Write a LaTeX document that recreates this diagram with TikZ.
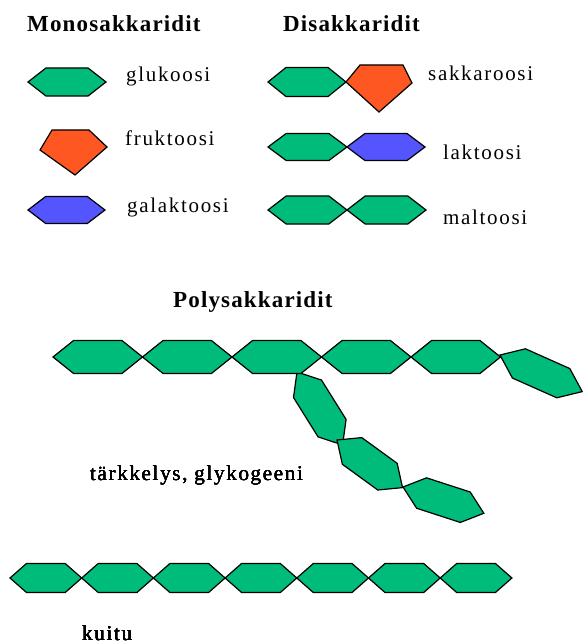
\documentclass[tikz,border=0pt]{standalone}
\usepackage{fontspec}
\setmainfont{Liberation Serif}[LetterSpace=8]
\definecolor{glc}{RGB}{0,188,122}
\definecolor{fru}{RGB}{255,87,34}
\definecolor{gal}{RGB}{85,85,255}

\tikzset{
  sugar/.style={draw=black,line width=1.2pt,line join=miter},
  lbl/.style={anchor=base west,inner sep=0pt,font=\fontsize{21}{23}\selectfont},
  ttl/.style={anchor=base west,inner sep=0pt,font=\fontsize{23}{25}\selectfont\bfseries\addfontfeature{LetterSpace=5}}
}

% six-sided ring: #1 left tip, #2 clockwise tilt (deg), #3 length, #4 half height, #5 fill
\newcommand{\ring}[5]{%
  \begin{scope}[shift={#1},rotate=-#2]
    \filldraw[sugar,fill=#5] (0,0) -- ({0.23*#3},-#4) -- ({0.77*#3},-#4)
      -- (#3,0) -- ({0.77*#3},#4) -- ({0.23*#3},#4) -- cycle;
  \end{scope}}

\begin{document}
\begin{tikzpicture}[x=1pt,y=-1pt]
\useasboundingbox (0,0) rectangle (584,644);
\clip (0,0) rectangle (584,644);

% headings
\node[ttl] (mono) at (27,32) {Monosakkaridit};
\node[ttl] (di) at (283,32) {Disakkaridit};
\node[ttl] (poly) at (173,307) {Polysakkaridit};

% monosaccharides
\ring{(28,82)}{0}{78}{14}{glc}
\filldraw[sugar,fill=fru] (52,130) -- (89,130) -- (107,147) -- (75,175) -- (40,150) -- cycle;
\ring{(28,210)}{0}{77}{13.5}{gal}
\node[lbl] (glukoosi) at (126,82) {glukoosi};
\node[lbl] (fruktoosi) at (125,146) {fruktoosi};
\node[lbl] (galaktoosi) at (127,212) {galaktoosi};

% disaccharides
\ring{(268,82)}{0}{78}{14.5}{glc}
\filldraw[sugar,fill=fru] (346,82) -- (360,65) -- (403,65) -- (412,83) -- (379,112) -- cycle;
\ring{(268,147)}{0}{79}{13.5}{glc}
\ring{(347,147)}{0}{78}{13.5}{gal}
\ring{(268,210)}{0}{79}{14}{glc}
\ring{(347,210)}{0}{79}{14}{glc}
\node[lbl] (sakkaroosi) at (428,81) {sakkaroosi};
\node[lbl] (laktoosi) at (443,160) {laktoosi};
\node[lbl] (maltoosi) at (443,224) {maltoosi};

% starch / glycogen: branch first, then the main chain
\ring{(297,372)}{58}{86}{16.5}{glc}
\ring{(337,440)}{36}{81}{16.5}{glc}
\ring{(403,487)}{18}{85}{16}{glc}
\ring{(500,355)}{24}{90}{16}{glc}
\foreach \i in {0,...,4}
  \ring{({53+89.5*\i},357)}{0}{89.5}{16.5}{glc}
\node[lbl] (starch) at (90,480) {tärkkelys, glykogeeni};

% fibre
\foreach \i in {0,...,6}
  \ring{({10+71.7*\i},578)}{0}{71.7}{14.5}{glc}
\node[lbl] (kuitu) at (82,640) {kuitu};
\end{tikzpicture}
\end{document}
